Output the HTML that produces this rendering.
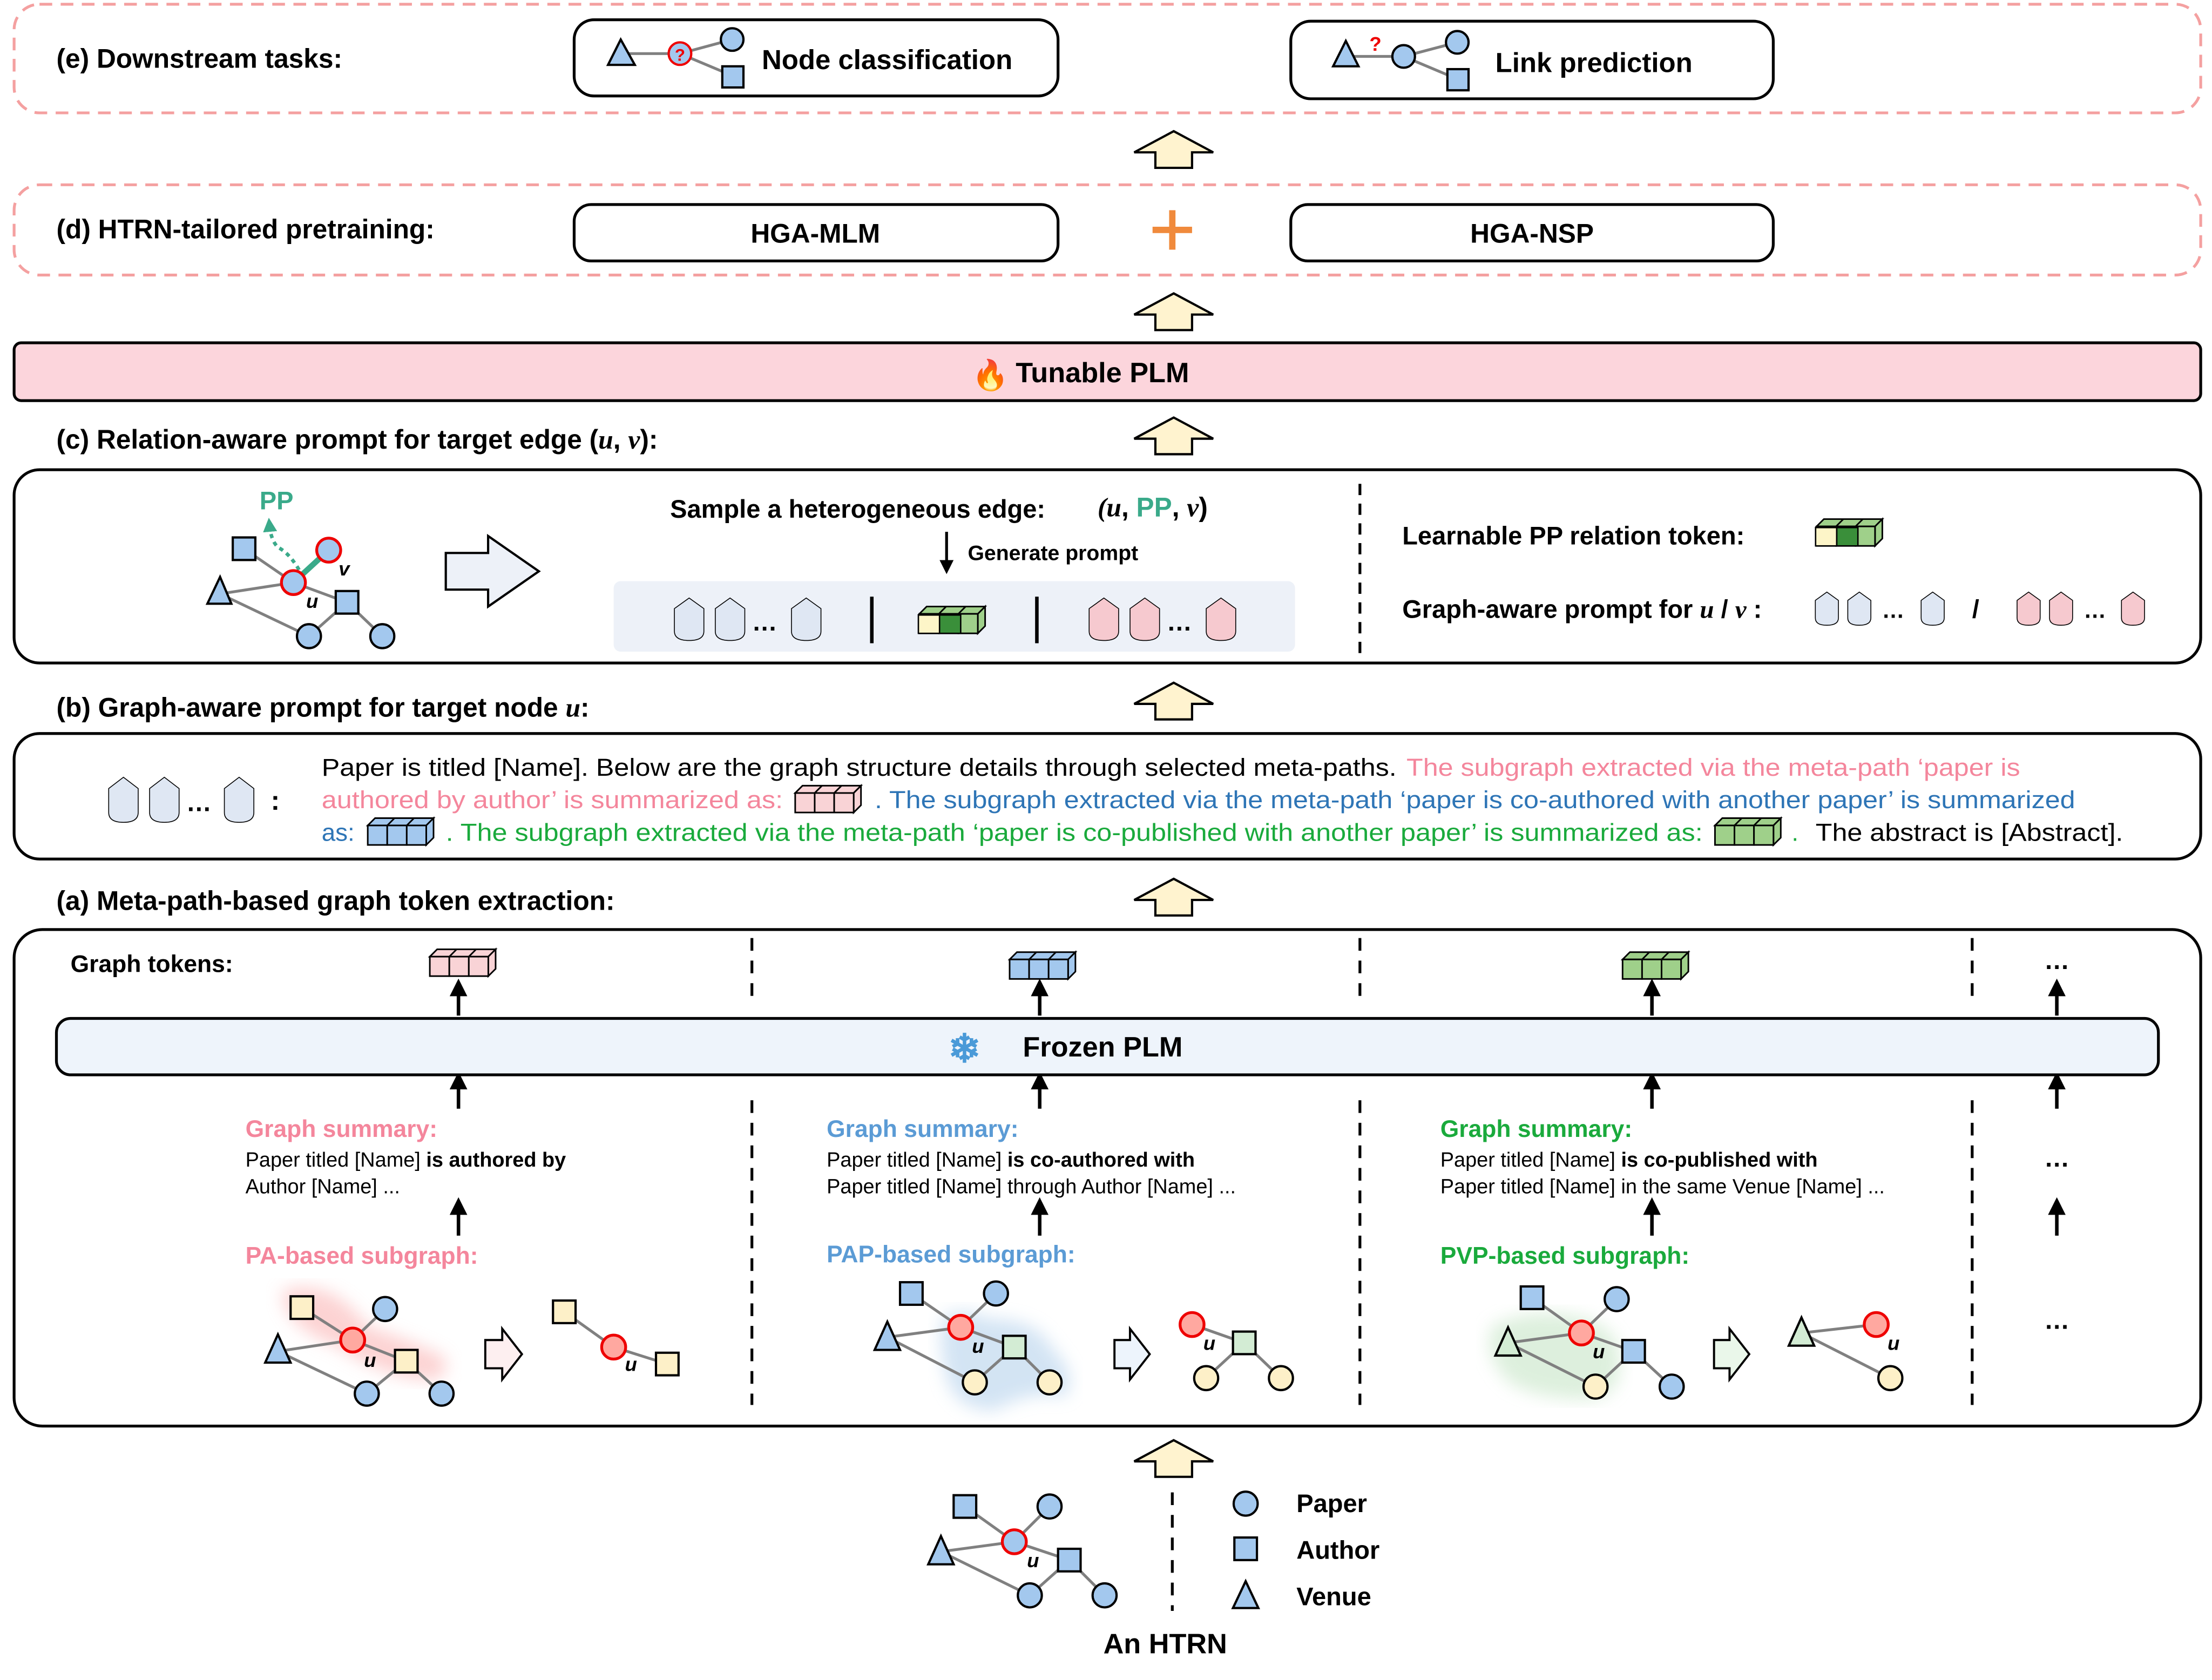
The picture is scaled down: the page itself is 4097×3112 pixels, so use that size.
<!DOCTYPE html>
<html><head><meta charset="utf-8"><style>
html,body{margin:0;padding:0;background:#fff;}
svg{display:block;}
text{font-family:"Liberation Sans",Arial,sans-serif;}
.b{font-weight:bold;}
.ed{stroke:#808080;stroke-width:2;fill:none;}
.n{stroke:#000;stroke-width:1.6;}
</style></head><body>
<svg width="4097" height="3112" viewBox="0 0 1568 1191" xmlns="http://www.w3.org/2000/svg">
<defs>
<symbol id="tk" viewBox="0 0 22 34" preserveAspectRatio="none" overflow="visible"><path d="M1,9 L11,1 L21,9 V26 Q21,33 11,33 Q1,33 1,26 Z" stroke="#000" stroke-width="1.6" vector-effect="non-scaling-stroke"/></symbol>
<symbol id="cube" viewBox="0 0 54 22" overflow="visible"><g stroke="#000" stroke-width="1.3"><path d="M0,6 L6,0 L54,0 L48,6 Z"/><path d="M48,6 L54,0 V16 L48,22 Z"/><rect x="0" y="6" width="16" height="16"/><rect x="16" y="6" width="16" height="16"/><rect x="32" y="6" width="16" height="16"/><path d="M16,6 L22,0 M32,6 L38,0" fill="none"/></g></symbol>
<symbol id="uparrow" viewBox="0 0 60 28" overflow="visible"><path d="M30,1 L58,16 H43 V27 H17 V16 H2 Z" fill="#fff3cf" stroke="#000" stroke-width="1.6"/></symbol>
<marker id="ah" viewBox="0 0 10 10" refX="5" refY="5" markerWidth="5" markerHeight="5" orient="auto-start-reverse"><path d="M0,0 L10,5 L0,10 Z" fill="#000"/></marker>
<marker id="gh" viewBox="0 0 10 10" refX="5" refY="5" markerWidth="4" markerHeight="4" orient="auto"><path d="M0,0 L10,5 L0,10 Z" fill="#3aaa8a"/></marker>
<filter id="blur"><feGaussianBlur stdDeviation="6"/></filter>
</defs>

<!-- (e) -->
<rect x="10" y="3" width="1550" height="77" rx="18" fill="none" stroke="#f4a0a0" stroke-width="2" stroke-dasharray="9,6"/>
<text x="40" y="48" font-size="19" class="b">(e) Downstream tasks:</text>
<rect x="407" y="14" width="343" height="54" rx="14" fill="#fff" stroke="#000" stroke-width="2"/>
<line x1="442" y1="38" x2="482" y2="38" class="ed"/><line x1="482" y1="38" x2="519" y2="28" class="ed"/><line x1="482" y1="38" x2="520" y2="54" class="ed"/>
<path d="M440,28 L450,46 L431,46 Z" fill="#a3c8ee" class="n"/>
<circle cx="482" cy="38" r="8" fill="#a3c8ee" stroke="#e00" stroke-width="1.6"/><text x="482" y="43" font-size="12" fill="#e00" text-anchor="middle" class="b">?</text>
<circle cx="519" cy="28" r="8" fill="#a3c8ee" class="n"/><rect x="512" y="47" width="15" height="15" fill="#a3c8ee" class="n"/>
<text x="540" y="49" font-size="19.5" class="b">Node classification</text>
<rect x="915" y="15" width="342" height="55" rx="14" fill="#fff" stroke="#000" stroke-width="2"/>
<line x1="955" y1="40" x2="995" y2="40" class="ed"/><line x1="995" y1="40" x2="1033" y2="30" class="ed"/><line x1="995" y1="40" x2="1033" y2="56" class="ed"/>
<path d="M954,29 L963,47 L945,47 Z" fill="#a3c8ee" class="n"/>
<text x="975" y="36" font-size="14" fill="#e00" text-anchor="middle" class="b">?</text>
<circle cx="995" cy="40" r="8" fill="#a3c8ee" class="n"/><circle cx="1033" cy="30" r="8" fill="#a3c8ee" class="n"/><rect x="1026" y="49" width="15" height="15" fill="#a3c8ee" class="n"/>
<text x="1060" y="51" font-size="19.5" class="b">Link prediction</text>

<use href="#uparrow" x="802" y="92" width="60" height="28"/>

<!-- (d) -->
<rect x="10" y="131" width="1550" height="64" rx="18" fill="none" stroke="#f4a0a0" stroke-width="2" stroke-dasharray="9,6"/>
<text x="40" y="169" font-size="19" class="b">(d) HTRN-tailored pretraining:</text>
<rect x="407" y="145" width="343" height="40" rx="12" fill="#fff" stroke="#000" stroke-width="2"/>
<text x="578" y="172" font-size="19" class="b" text-anchor="middle">HGA-MLM</text>
<rect x="915" y="145" width="342" height="40" rx="12" fill="#fff" stroke="#000" stroke-width="2"/>
<text x="1086" y="172" font-size="19" class="b" text-anchor="middle">HGA-NSP</text>
<path d="M831,149 V177 M817,163 H845" stroke="#f08a3c" stroke-width="4.5"/>

<use href="#uparrow" x="802" y="207" width="60" height="28"/>

<!-- Tunable PLM -->
<rect x="10" y="243" width="1550" height="41" rx="5" fill="#fcd5dc" stroke="#000" stroke-width="2"/>
<text x="689" y="273" font-size="21">🔥</text>
<text x="720" y="271" font-size="20" class="b">Tunable PLM</text>

<use href="#uparrow" x="802" y="295" width="60" height="28"/>

<!-- (c) -->
<text x="40" y="318" font-size="19" class="b">(c) Relation-aware prompt for target edge (<tspan font-family="Liberation Serif" font-style="italic">u</tspan>, <tspan font-family="Liberation Serif" font-style="italic">v</tspan>):</text>
<rect x="10" y="333" width="1550" height="137" rx="18" fill="#fff" stroke="#000" stroke-width="2"/>
<g>
<line x1="173" y1="389" x2="208" y2="413" class="ed"/><line x1="156" y1="421" x2="208" y2="413" class="ed" stroke-width="3"/>
<line x1="208" y1="413" x2="246" y2="427" class="ed"/><line x1="156" y1="421" x2="219" y2="451" class="ed"/>
<line x1="246" y1="427" x2="219" y2="451" class="ed"/><line x1="246" y1="427" x2="271" y2="451" class="ed"/>
<line x1="208" y1="413" x2="233" y2="390" stroke="#3aaa8a" stroke-width="4"/>
<path d="M212,404 Q205,392 197,388 Q192,383 191,372" fill="none" stroke="#3aaa8a" stroke-width="2.5" stroke-dasharray="3,3" marker-end="url(#gh)"/>
<rect x="165" y="381" width="16" height="16" fill="#a3c8ee" class="n"/>
<path d="M156,409 L164,428 L147,428 Z" fill="#a3c8ee" class="n"/>
<circle cx="233" cy="390" r="8.5" fill="#a3c8ee" stroke="#e00" stroke-width="2"/>
<circle cx="208" cy="413" r="8.5" fill="#a3c8ee" stroke="#e00" stroke-width="2"/>
<rect x="238" y="419" width="16" height="16" fill="#a3c8ee" class="n"/>
<circle cx="219" cy="451" r="8.5" fill="#a3c8ee" class="n"/><circle cx="271" cy="451" r="8.5" fill="#a3c8ee" class="n"/>
<text x="184" y="361" font-size="18" class="b" fill="#3aaa8a">PP</text>
<text x="217" y="431" font-size="14" font-family="Liberation Serif" font-style="italic" class="b">u</text>
<text x="240" y="408" font-size="14" font-family="Liberation Serif" font-style="italic" class="b">v</text>
</g>
<path d="M316,392 H346 V380 L382,405 L346,430 V418 H316 Z" fill="#edf1f8" stroke="#000" stroke-width="1.6"/>
<text x="475" y="367" font-size="18" class="b">Sample a heterogeneous edge:</text>
<text x="778" y="366" font-size="19" class="b"><tspan font-family="Liberation Serif" font-style="italic">(u</tspan>, <tspan fill="#3aaa8a">PP</tspan>, <tspan font-family="Liberation Serif" font-style="italic">v</tspan>)</text>
<line x1="671" y1="377" x2="671" y2="402" stroke="#000" stroke-width="2" marker-end="url(#ah)"/>
<text x="686" y="397" font-size="15" class="b">Generate prompt</text>
<rect x="435" y="412" width="483" height="50" rx="5" fill="#edf1f8"/>
<g fill="#dfe7f3"><use href="#tk" x="477" y="423" width="23" height="32"/><use href="#tk" x="506" y="423" width="23" height="32"/><use href="#tk" x="560" y="423" width="23" height="32"/></g>
<text x="533" y="447" font-size="18" class="b">…</text>
<line x1="618" y1="423" x2="618" y2="456" stroke="#000" stroke-width="2.5"/>
<g><use href="#cube" x="650" y="430" width="50" height="19" fill="#9fd08a"/><rect x="666" y="436" width="15" height="13" fill="#3a8f3a" stroke="#000" stroke-width="1"/><rect x="651" y="436" width="15" height="13" fill="#fdf5c8" stroke="#000" stroke-width="1"/></g>
<line x1="735" y1="423" x2="735" y2="456" stroke="#000" stroke-width="2.5"/>
<g fill="#f6c9cf"><use href="#tk" x="771" y="423" width="23" height="32"/><use href="#tk" x="800" y="423" width="23" height="32"/><use href="#tk" x="854" y="423" width="23" height="32"/></g>
<text x="827" y="447" font-size="18" class="b">…</text>
<line x1="964" y1="343" x2="964" y2="465" stroke="#000" stroke-width="2" stroke-dasharray="8,6"/>
<text x="994" y="386" font-size="18" class="b">Learnable PP relation token:</text>
<g><use href="#cube" x="1287" y="368" width="48" height="19" fill="#9fd08a"/><rect x="1287" y="374" width="15" height="13" fill="#fdf5c8" stroke="#000" stroke-width="1"/><rect x="1302" y="374" width="15" height="13" fill="#3a8f3a" stroke="#000" stroke-width="1"/></g>
<text x="994" y="438" font-size="18" class="b">Graph-aware prompt for <tspan font-family="Liberation Serif" font-style="italic">u</tspan> / <tspan font-family="Liberation Serif" font-style="italic">v</tspan> :</text>
<g fill="#dfe7f3"><use href="#tk" x="1286" y="419" width="18" height="25"/><use href="#tk" x="1309" y="419" width="18" height="25"/><use href="#tk" x="1361" y="419" width="18" height="25"/></g>
<text x="1334" y="438" font-size="16" class="b">…</text>
<text x="1398" y="438" font-size="18" class="b">/</text>
<g fill="#f6c9cf"><use href="#tk" x="1429" y="419" width="18" height="25"/><use href="#tk" x="1452" y="419" width="18" height="25"/><use href="#tk" x="1503" y="419" width="18" height="25"/></g>
<text x="1477" y="438" font-size="16" class="b">…</text>

<use href="#uparrow" x="802" y="483" width="60" height="28"/>

<!-- (b) -->
<text x="40" y="508" font-size="19" class="b">(b) Graph-aware prompt for target node <tspan font-family="Liberation Serif" font-style="italic">u</tspan>:</text>
<rect x="10" y="520" width="1550" height="89" rx="18" fill="#fff" stroke="#000" stroke-width="2"/>
<g fill="#dfe7f3"><use href="#tk" x="76" y="550" width="23" height="34"/><use href="#tk" x="105" y="550" width="23" height="34"/><use href="#tk" x="158" y="550" width="23" height="34"/></g>
<text x="132" y="575" font-size="18" class="b">…</text>
<text x="192" y="574" font-size="19" class="b">:</text>
<g font-size="17.5">
<text x="228" y="550" textLength="762" lengthAdjust="spacingAndGlyphs">Paper is titled [Name]. Below are the graph structure details through selected meta-paths.</text>
<text x="997" y="550" fill="#f4869c" textLength="435" lengthAdjust="spacingAndGlyphs">The subgraph extracted via the meta-path ‘paper is</text>
<text x="228" y="573" fill="#f4869c" textLength="327" lengthAdjust="spacingAndGlyphs">authored by author’ is summarized as:</text>
<text x="620" y="573" fill="#2e75b6" textLength="851" lengthAdjust="spacingAndGlyphs">. The subgraph extracted via the meta-path ‘paper is co-authored with another paper’ is summarized</text>
<text x="228" y="596" fill="#2e75b6">as:</text>
<text x="316" y="596" fill="#1aaa3c" textLength="891" lengthAdjust="spacingAndGlyphs">. The subgraph extracted via the meta-path ‘paper is co-published with another paper’ is summarized as:</text>
<text x="1270" y="596" fill="#1aaa3c">.</text>
<text x="1287" y="596" textLength="218" lengthAdjust="spacingAndGlyphs">The abstract is [Abstract].</text>
</g>
<use href="#cube" x="563" y="557" width="48" height="19" fill="#f9d3d6"/>
<use href="#cube" x="260" y="580" width="48" height="19" fill="#a3c8ee"/>
<use href="#cube" x="1215" y="580" width="48" height="19" fill="#9fd08a"/>

<use href="#uparrow" x="802" y="622" width="60" height="28"/>

<!-- (a) -->
<text x="40" y="645" font-size="19" class="b">(a) Meta-path-based graph token extraction:</text>
<rect x="10" y="659" width="1550" height="352" rx="20" fill="#fff" stroke="#000" stroke-width="2"/>
<text x="50" y="689" font-size="17" class="b">Graph tokens:</text>
<use href="#cube" x="304" y="673" width="48" height="19" fill="#f9d3d6"/>
<use href="#cube" x="714" y="675" width="50" height="19" fill="#a3c8ee"/>
<use href="#cube" x="1149" y="675" width="49" height="19" fill="#9fd08a"/>
<text x="1458" y="687" font-size="18" class="b" text-anchor="middle">…</text>
<g stroke="#000" stroke-width="2" stroke-dasharray="9,7">
<line x1="533" y1="665" x2="533" y2="712"/><line x1="964" y1="665" x2="964" y2="712"/><line x1="1398" y1="665" x2="1398" y2="712"/>
<line x1="533" y1="780" x2="533" y2="996"/><line x1="964" y1="780" x2="964" y2="996"/><line x1="1398" y1="780" x2="1398" y2="996"/>
</g>
<g stroke="#000" stroke-width="2.5" marker-end="url(#ah)">
<line x1="325" y1="720" x2="325" y2="700"/><line x1="737" y1="720" x2="737" y2="700"/><line x1="1171" y1="720" x2="1171" y2="700"/><line x1="1458" y1="720" x2="1458" y2="700"/>
<line x1="325" y1="786" x2="325" y2="766"/><line x1="737" y1="786" x2="737" y2="766"/><line x1="1171" y1="786" x2="1171" y2="766"/><line x1="1458" y1="786" x2="1458" y2="766"/>
<line x1="325" y1="876" x2="325" y2="855"/><line x1="737" y1="876" x2="737" y2="855"/><line x1="1171" y1="876" x2="1171" y2="855"/><line x1="1458" y1="876" x2="1458" y2="855"/>
</g>
<rect x="40" y="722" width="1490" height="40" rx="10" fill="#eef4fb" stroke="#000" stroke-width="2"/>
<text x="672" y="753" font-size="28" fill="#4a9ad8" class="b">❄</text>
<text x="725" y="749" font-size="20" class="b">Frozen PLM</text>

<!-- PA column -->
<text x="174" y="806" font-size="17" class="b" fill="#f4869c">Graph summary:</text>
<text x="174" y="827" font-size="14.5">Paper titled [Name] <tspan class="b">is authored by</tspan></text>
<text x="174" y="846" font-size="14.5">Author [Name] ...</text>
<text x="174" y="896" font-size="17" class="b" fill="#f4869c">PA-based subgraph:</text>
<path d="M200,915 Q235,905 260,940 Q290,950 315,962 Q320,980 300,978 Q270,975 240,955 Q200,940 200,915 Z" fill="#fbb6b6" opacity="0.6" filter="url(#blur)"/>
<g>
<line x1="214" y1="927" x2="250" y2="950" class="ed"/><line x1="273" y1="928" x2="250" y2="950" class="ed"/>
<line x1="197" y1="958" x2="250" y2="950" class="ed" stroke-width="3"/><line x1="250" y1="950" x2="288" y2="965" class="ed"/>
<line x1="197" y1="958" x2="260" y2="988" class="ed"/><line x1="288" y1="965" x2="260" y2="988" class="ed"/><line x1="288" y1="965" x2="313" y2="988" class="ed"/>
<rect x="206" y="919" width="16" height="16" fill="#fdf0c8" class="n"/>
<circle cx="273" cy="928" r="8.5" fill="#a3c8ee" class="n"/>
<circle cx="250" cy="950" r="8.5" fill="#ffa8a0" stroke="#e00" stroke-width="2"/>
<path d="M197,946 L206,966 L188,966 Z" fill="#a3c8ee" class="n"/>
<rect x="280" y="957" width="16" height="16" fill="#fdf0c8" class="n"/>
<circle cx="260" cy="988" r="8.5" fill="#a3c8ee" class="n"/><circle cx="313" cy="988" r="8.5" fill="#a3c8ee" class="n"/>
<text x="258" y="969" font-size="14" font-family="Liberation Serif" font-style="italic" class="b">u</text>
</g>
<path d="M344,950 H356 V942 L370,960 L356,978 V970 H344 Z" fill="#fdeff0" stroke="#000" stroke-width="1.5"/>
<line x1="400" y1="930" x2="435" y2="955" class="ed"/><line x1="435" y1="955" x2="473" y2="967" class="ed"/>
<rect x="392" y="922" width="16" height="16" fill="#fdf0c8" class="n"/>
<circle cx="435" cy="955" r="8.5" fill="#ffa8a0" stroke="#e00" stroke-width="2"/>
<rect x="465" y="959" width="16" height="16" fill="#fdf0c8" class="n"/>
<text x="443" y="972" font-size="14" font-family="Liberation Serif" font-style="italic" class="b">u</text>

<!-- PAP column -->
<text x="586" y="806" font-size="17" class="b" fill="#5b9bd5">Graph summary:</text>
<text x="586" y="827" font-size="14.5">Paper titled [Name] <tspan class="b">is co-authored with</tspan></text>
<text x="586" y="846" font-size="14.5">Paper titled [Name] through Author [Name] ...</text>
<text x="586" y="895" font-size="17" class="b" fill="#5b9bd5">PAP-based subgraph:</text>
<path d="M668,935 Q680,925 700,935 Q735,935 745,955 Q765,975 755,990 Q730,985 705,1000 Q680,1000 672,980 Q665,955 668,935 Z" fill="#bcd6ee" opacity="0.65" filter="url(#blur)"/>
<g>
<line x1="646" y1="917" x2="681" y2="941" class="ed"/><line x1="706" y1="917" x2="681" y2="941" class="ed"/>
<line x1="629" y1="948" x2="681" y2="941" class="ed" stroke-width="3"/><line x1="681" y1="941" x2="719" y2="955" class="ed"/>
<line x1="629" y1="948" x2="691" y2="980" class="ed"/><line x1="719" y1="955" x2="691" y2="980" class="ed"/><line x1="719" y1="955" x2="744" y2="980" class="ed"/>
<rect x="638" y="909" width="16" height="16" fill="#a3c8ee" class="n"/>
<circle cx="706" cy="917" r="8.5" fill="#a3c8ee" class="n"/>
<circle cx="681" cy="941" r="8.5" fill="#ffa8a0" stroke="#e00" stroke-width="2"/>
<path d="M629,937 L638,957 L620,957 Z" fill="#a3c8ee" class="n"/>
<rect x="711" y="947" width="16" height="16" fill="#d3ecd4" class="n"/>
<circle cx="691" cy="980" r="8.5" fill="#fdf0c8" class="n"/><circle cx="744" cy="980" r="8.5" fill="#fdf0c8" class="n"/>
<text x="689" y="959" font-size="14" font-family="Liberation Serif" font-style="italic" class="b">u</text>
</g>
<path d="M790,950 H801 V942 L815,960 L801,978 V970 H790 Z" fill="#edf4fc" stroke="#000" stroke-width="1.5"/>
<line x1="845" y1="939" x2="882" y2="952" class="ed"/><line x1="882" y1="952" x2="855" y2="977" class="ed"/><line x1="882" y1="952" x2="908" y2="977" class="ed"/>
<circle cx="845" cy="939" r="8.5" fill="#ffa8a0" stroke="#e00" stroke-width="2"/>
<rect x="874" y="944" width="16" height="16" fill="#d3ecd4" class="n"/>
<circle cx="855" cy="977" r="8.5" fill="#fdf0c8" class="n"/><circle cx="908" cy="977" r="8.5" fill="#fdf0c8" class="n"/>
<text x="853" y="957" font-size="14" font-family="Liberation Serif" font-style="italic" class="b">u</text>

<!-- PVP column -->
<text x="1021" y="806" font-size="17" class="b" fill="#1aaa3c">Graph summary:</text>
<text x="1021" y="827" font-size="14.5">Paper titled [Name] <tspan class="b">is co-published with</tspan></text>
<text x="1021" y="846" font-size="14.5">Paper titled [Name] in the same Venue [Name] ...</text>
<text x="1021" y="896" font-size="17" class="b" fill="#1aaa3c">PVP-based subgraph:</text>
<path d="M1058,940 Q1090,925 1125,935 Q1150,945 1148,965 Q1150,990 1125,992 Q1090,992 1070,980 Q1050,960 1058,940 Z" fill="#cfe9cf" opacity="0.7" filter="url(#blur)"/>
<g>
<line x1="1086" y1="920" x2="1121" y2="945" class="ed"/><line x1="1146" y1="921" x2="1121" y2="945" class="ed"/>
<line x1="1069" y1="952" x2="1121" y2="945" class="ed" stroke-width="3"/><line x1="1121" y1="945" x2="1158" y2="958" class="ed"/>
<line x1="1069" y1="952" x2="1131" y2="983" class="ed"/><line x1="1158" y1="958" x2="1131" y2="983" class="ed"/><line x1="1158" y1="958" x2="1185" y2="983" class="ed"/>
<rect x="1078" y="912" width="16" height="16" fill="#a3c8ee" class="n"/>
<circle cx="1146" cy="921" r="8.5" fill="#a3c8ee" class="n"/>
<circle cx="1121" cy="945" r="8.5" fill="#ffa8a0" stroke="#e00" stroke-width="2"/>
<path d="M1069,941 L1078,961 L1060,961 Z" fill="#d3ecd4" class="n"/>
<rect x="1150" y="950" width="16" height="16" fill="#a3c8ee" class="n"/>
<circle cx="1131" cy="983" r="8.5" fill="#fdf0c8" class="n"/><circle cx="1185" cy="983" r="8.5" fill="#a3c8ee" class="n"/>
<text x="1129" y="963" font-size="14" font-family="Liberation Serif" font-style="italic" class="b">u</text>
</g>
<path d="M1215,950 H1226 V942 L1240,960 L1226,978 V970 H1215 Z" fill="#eaf7ea" stroke="#000" stroke-width="1.5"/>
<line x1="1277" y1="945" x2="1330" y2="939" class="ed" stroke-width="3"/><line x1="1277" y1="945" x2="1340" y2="977" class="ed"/>
<path d="M1277,934 L1286,954 L1268,954 Z" fill="#d3ecd4" class="n"/>
<circle cx="1330" cy="939" r="8.5" fill="#ffa8a0" stroke="#e00" stroke-width="2"/>
<circle cx="1340" cy="977" r="8.5" fill="#fdf0c8" class="n"/>
<text x="1338" y="957" font-size="14" font-family="Liberation Serif" font-style="italic" class="b">u</text>

<text x="1458" y="827" font-size="18" class="b" text-anchor="middle">…</text>
<text x="1458" y="942" font-size="18" class="b" text-anchor="middle">…</text>

<use href="#uparrow" x="802" y="1020" width="60" height="28"/>

<!-- HTRN -->
<line x1="684" y1="1068" x2="719" y2="1093" class="ed"/><line x1="744" y1="1068" x2="719" y2="1093" class="ed"/>
<line x1="667" y1="1100" x2="719" y2="1093" class="ed" stroke-width="3"/><line x1="719" y1="1093" x2="758" y2="1106" class="ed"/>
<line x1="667" y1="1100" x2="730" y2="1131" class="ed"/><line x1="758" y1="1106" x2="730" y2="1131" class="ed"/><line x1="758" y1="1106" x2="783" y2="1131" class="ed"/>
<rect x="676" y="1060" width="16" height="16" fill="#a3c8ee" class="n"/>
<circle cx="744" cy="1068" r="8.5" fill="#a3c8ee" class="n"/>
<circle cx="719" cy="1093" r="8.5" fill="#a3c8ee" stroke="#e00" stroke-width="2"/>
<path d="M667,1089 L676,1109 L658,1109 Z" fill="#a3c8ee" class="n"/>
<rect x="750" y="1098" width="16" height="16" fill="#a3c8ee" class="n"/>
<circle cx="730" cy="1131" r="8.5" fill="#a3c8ee" class="n"/><circle cx="783" cy="1131" r="8.5" fill="#a3c8ee" class="n"/>
<text x="728" y="1111" font-size="14" font-family="Liberation Serif" font-style="italic" class="b">u</text>
<line x1="831" y1="1058" x2="831" y2="1142" stroke="#000" stroke-width="2" stroke-dasharray="9,7"/>
<circle cx="883" cy="1066" r="8.5" fill="#a3c8ee" class="n"/>
<rect x="875" y="1090" width="16" height="16" fill="#a3c8ee" class="n"/>
<path d="M883,1121 L892,1140 L874,1140 Z" fill="#a3c8ee" class="n"/>
<text x="919" y="1072" font-size="18" class="b">Paper</text>
<text x="919" y="1105" font-size="18" class="b">Author</text>
<text x="919" y="1138" font-size="18" class="b">Venue</text>
<text x="826" y="1172" font-size="20" class="b" text-anchor="middle">An HTRN</text>
</svg>
</body></html>
